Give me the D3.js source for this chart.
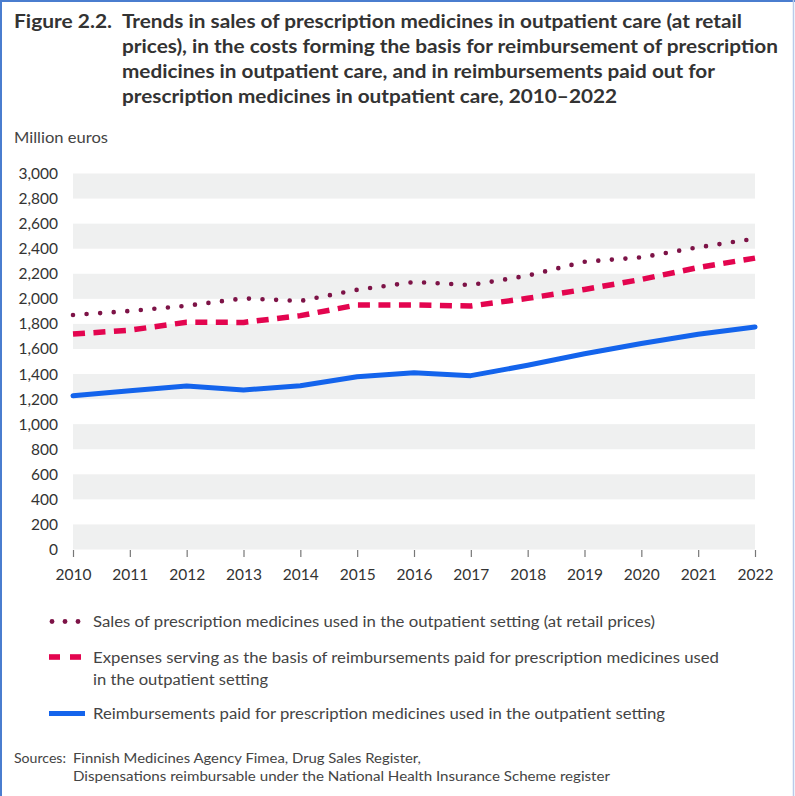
<!DOCTYPE html>
<html>
<head>
<meta charset="utf-8">
<script src="https://cdn.jsdelivr.net/npm/d3@7"></script>
<style>
    body { margin: 0; background: #fff; }
    svg text { font-family: Lato, "Open Sans", sans-serif; }
</style>
</head>
<body>
<div id="chart"></div>
<script>
var years = [2010, 2011, 2012, 2013, 2014, 2015, 2016, 2017, 2018, 2019, 2020, 2021, 2022];
var sales = [1871, 1903, 1945, 2004, 1983, 2072, 2134, 2110, 2185, 2296, 2331, 2411, 2480];
var expenses = [1719, 1750, 1813, 1812, 1866, 1951, 1951, 1943, 2004, 2075, 2155, 2250, 2325];
var reimbursements = [1227, 1267, 1305, 1273, 1307, 1379, 1411, 1387, 1470, 1562, 1643, 1718, 1776];
var yTicks = [0, 200, 400, 600, 800, 1000, 1200, 1400, 1600, 1800, 2000, 2200, 2400, 2600, 2800, 3000];

var titleLines = [
    "Trends in sales of prescription medicines in outpatient care (at retail",
    "prices), in the costs forming the basis for reimbursement of prescription",
    "medicines in outpatient care, and in reimbursements paid out for",
    "prescription medicines in outpatient care, 2010\u20132022"
];
var legendItems = [
    {key: "sales", lines: ["Sales of prescription medicines used in the outpatient setting (at retail prices)"]},
    {key: "expenses", lines: ["Expenses serving as the basis of reimbursements paid for prescription medicines used", "in the outpatient setting"]},
    {key: "reimb", lines: ["Reimbursements paid for prescription medicines used in the outpatient setting"]}
];

(function () {
    var W = 795, H = 796;
    var svg = d3.select("#chart").append("svg")
	    .attr("width", W)
	    .attr("height", H);

    // frame
    svg.append("rect").attr("x", 0).attr("y", 0).attr("width", W).attr("height", H).attr("fill", "#fff");
    svg.append("line").attr("x1", 0).attr("x2", W).attr("y1", 1).attr("y2", 1)
	    .attr("stroke", "#4a7dcf").attr("stroke-width", 2);
    svg.append("line").attr("x1", 1).attr("x2", 1).attr("y1", 0).attr("y2", H)
	    .attr("stroke", "#4a7dcf").attr("stroke-width", 2);
    svg.append("line").attr("x1", 793.5).attr("x2", 793.5).attr("y1", 0).attr("y2", H)
	    .attr("stroke", "#b9cbea").attr("stroke-width", 1.5);

    // title
    svg.append("text").attr("x", 14).attr("y", 28)
	    .attr("font-size", 19.5).attr("font-weight", "bold").attr("fill", "#333")
	    .attr("textLength", 98).attr("lengthAdjust", "spacingAndGlyphs")
	    .text("Figure 2.2.");
    var titleWidths = [620, 656, 593, 495];
    svg.append("g").selectAll("text").data(titleLines).join("text")
	    .attr("x", 122)
	    .attr("y", function (d, i) { return 28 + i * 25; })
	    .attr("font-size", 19.5).attr("font-weight", "bold").attr("fill", "#333")
	    .attr("textLength", function (d, i) { return titleWidths[i]; })
	    .attr("lengthAdjust", "spacingAndGlyphs")
	    .text(function (d) { return d; });

    svg.append("text").attr("x", 14).attr("y", 143)
	    .attr("font-size", 15).attr("fill", "#444")
	    .attr("textLength", 94).attr("lengthAdjust", "spacingAndGlyphs")
	    .text("Million euros");

    var x = d3.scaleLinear().domain([2010, 2022]).range([73, 755]);
    var y = d3.scaleLinear().domain([0, 3000]).range([549.5, 173.5]);

    // alternating bands
    var bands = yTicks.filter(function (t) { return t % 400 === 0 && t < 3000; });
    svg.append("g").selectAll("rect").data(bands).join("rect")
	    .attr("x", x(2010))
	    .attr("width", x(2022) - x(2010))
	    .attr("y", function (d) { return y(d + 200); })
	    .attr("height", function (d) { return y(d) - y(d + 200); })
	    .attr("fill", "#eff0f0");

    // y axis
    var yAxis = svg.append("g")
	    .attr("transform", "translate(58,0)")
	    .call(d3.axisLeft(y).tickValues(yTicks).tickSize(0).tickPadding(0)
		  .tickFormat(d3.format(",")));
    yAxis.select(".domain").remove();
    yAxis.selectAll("text").attr("font-size", 15.5).attr("fill", "#333")
	    .attr("font-family", "Lato, sans-serif");

    // x axis
    var xAxis = svg.append("g")
	    .attr("transform", "translate(0,550)")
	    .call(d3.axisBottom(x).tickValues(years).tickSize(7).tickPadding(12)
		  .tickFormat(d3.format("d")));
    xAxis.select(".domain").remove();
    xAxis.selectAll("line").attr("stroke", "#777").attr("stroke-width", 1.2);
    xAxis.selectAll("text").attr("font-size", 15.5).attr("fill", "#333")
	    .attr("font-family", "Lato, sans-serif");

    var styles = {
	sales: {color: "#7d1347", width: 4.6, dash: "0 13.6", cap: "round"},
	expenses: {color: "#e3054f", width: 5.5, dash: "12 8.5", cap: "butt"},
	reimb: {color: "#1464ec", width: 5, dash: null, cap: "round"}
    };
    var seriesList = [
	{key: "expenses", values: expenses},
	{key: "sales", values: sales},
	{key: "reimb", values: reimbursements}
    ];
    var line = d3.line()
	    .x(function (d, i) { return x(years[i]); })
	    .y(function (d) { return y(d); });

    seriesList.forEach(function (s) {
	var st = styles[s.key];
	svg.append("path")
		.datum(s.values)
		.attr("d", line)
		.attr("fill", "none")
		.attr("stroke", st.color)
		.attr("stroke-width", st.width)
		.attr("stroke-dasharray", st.dash)
		.attr("stroke-linecap", st.cap)
		.attr("stroke-linejoin", "round");
    });

    // legend
    var legendY = [621.5, 657, 713.5];
    var legendWidths = [[562], [626, 175], [572]];
    legendItems.forEach(function (item, i) {
	var st = styles[item.key];
	var ly = legendY[i];
	if (item.key === "sales") {
	    svg.append("g").selectAll("circle").data([52, 65, 78]).join("circle")
		    .attr("cx", function (d) { return d; }).attr("cy", ly).attr("r", 2.4)
		    .attr("fill", st.color);
	} else if (item.key === "expenses") {
	    svg.append("g").selectAll("rect").data([49, 70]).join("rect")
		    .attr("x", function (d) { return d; }).attr("y", ly - 2.8)
		    .attr("width", 11).attr("height", 5.6).attr("fill", st.color);
	} else {
	    svg.append("line").attr("x1", 49).attr("x2", 85).attr("y1", ly).attr("y2", ly)
		    .attr("stroke", st.color).attr("stroke-width", 5);
	}
	item.lines.forEach(function (t, j) {
	    svg.append("text")
		    .attr("x", 93).attr("y", ly + 5.5 + j * 22)
		    .attr("font-size", 15.5).attr("fill", "#444")
		    .attr("textLength", legendWidths[i][j])
		    .attr("lengthAdjust", "spacingAndGlyphs")
		    .text(t);
	});
    });

    // sources
    svg.append("text").attr("x", 14).attr("y", 763)
	    .attr("font-size", 13.5).attr("fill", "#444")
	    .attr("textLength", 52).attr("lengthAdjust", "spacingAndGlyphs")
	    .text("Sources:");
    svg.append("text").attr("x", 73).attr("y", 763)
	    .attr("font-size", 13.5).attr("fill", "#444")
	    .attr("textLength", 348).attr("lengthAdjust", "spacingAndGlyphs")
	    .text("Finnish Medicines Agency Fimea, Drug Sales Register,");
    svg.append("text").attr("x", 73).attr("y", 781)
	    .attr("font-size", 13.5).attr("fill", "#444")
	    .attr("textLength", 537).attr("lengthAdjust", "spacingAndGlyphs")
	    .text("Dispensations reimbursable under the National Health Insurance Scheme register");
})();
</script>
</body>
</html>
